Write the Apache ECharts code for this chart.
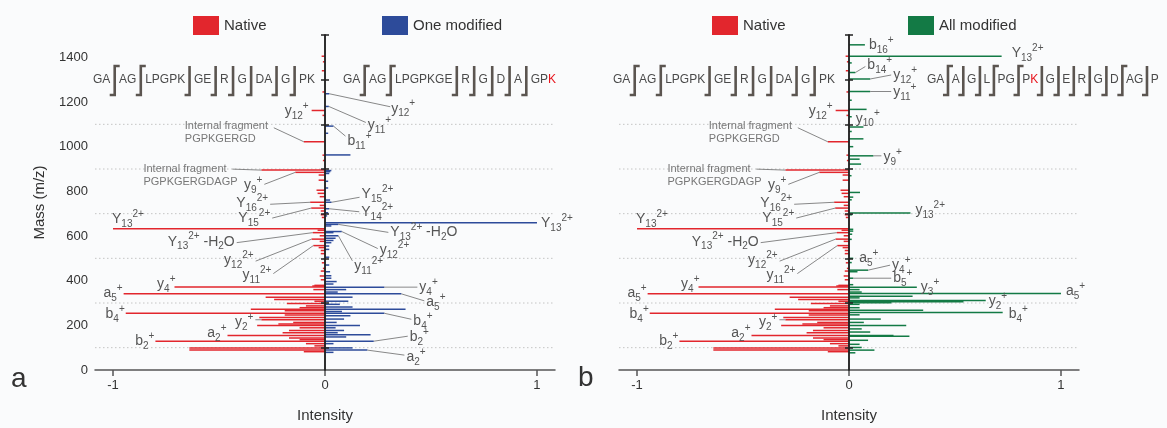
<!DOCTYPE html>
<html><head><meta charset="utf-8">
<script src="https://cdn.jsdelivr.net/npm/echarts@6/dist/echarts.min.js"></script>
<style>html,body{margin:0;padding:0;background:#fafbfc}#c{width:1167px;height:428px}</style>
</head><body><div id="c"></div>
<script>
// ---------------- DATA ----------------
const massTicks = [0, 200, 400, 600, 800, 1000, 1200, 1400];
const centerTicks = [100, 300, 500, 700, 900, 1100, 1300, 1500];
const gridMass = [100, 300, 500, 700, 900, 1100];
const intensityTicks = [-1, 0, 1];

// [mass (m/z), intensity]  (native drawn on the negative side)
const nativePeaks = [
  [1405,-0.016],[1380,-0.01],[1340,-0.015],[1245,-0.012],[1162,-0.063],[1140,-0.012],
  [1022,-0.10],[962,-0.012],[938,-0.01],[895,-0.30],[885,-0.14],[873,-0.03],[850,-0.03],
  [805,-0.04],[791,-0.035],[776,-0.025],[751,-0.07],[737,-0.025],[725,-0.065],[712,-0.02],
  [695,-0.02],[683,-0.015],[633,-1.0],[626,-0.035],[615,-0.058],[601,-0.025],[586,-0.063],
  [576,-0.025],[557,-0.055],[548,-0.03],[535,-0.02],[521,-0.02],[480,-0.015],[455,-0.01],
  [443,-0.02],[421,-0.025],[404,-0.02],[379,-0.05],[376,-0.06],[372,-0.71],[360,-0.055],
  [341,-0.95],[326,-0.28],[316,-0.24],[308,-0.05],[298,-0.18],[287,-0.09],[279,-0.12],
  [272,-0.35],[265,-0.19],[254,-0.94],[246,-0.19],[235,-0.31],[225,-0.30],[213,-0.15],
  [206,-0.22],[199,-0.32],[189,-0.12],[177,-0.17],[167,-0.20],[155,-0.46],[143,-0.17],
  [136,-0.12],[129,-0.80],[118,-0.09],[108,-0.05],[99,-0.64],[89,-0.64],[82,-0.10]
];
const oneModifiedPeaks = [
  [1237,0.02],[1180,0.018],[1092,0.04],[1060,0.015],[963,0.12],[893,0.03],[888,0.025],
  [880,0.02],[845,0.015],[815,0.015],[761,0.024],[751,0.031],[722,0.02],[704,0.015],
  [690,0.01],[659,1.0],[652,0.063],[645,0.03],[620,0.079],[615,0.04],[601,0.063],[590,0.05],
  [580,0.04],[570,0.03],[555,0.02],[540,0.02],[505,0.02],[470,0.02],[440,0.024],[422,0.03],
  [411,0.03],[396,0.055],[385,0.04],[371,0.28],[360,0.10],[349,0.06],[341,0.36],[326,0.13],
  [308,0.11],[294,0.07],[282,0.13],[272,0.38],[262,0.08],[254,0.28],[243,0.12],[228,0.09],
  [213,0.055],[199,0.165],[189,0.05],[177,0.09],[167,0.06],[158,0.215],[148,0.10],
  [129,0.23],[118,0.04],[99,0.13],[89,0.20],[79,0.04]
];
const allModifiedPeaks = [
  [1456,0.075],[1405,0.72],[1375,0.013],[1332,0.03],[1303,0.10],[1247,0.10],[1208,0.013],
  [1167,0.083],[1134,0.013],[1088,0.068],[1068,0.013],[1035,0.068],[1000,0.02],[959,0.115],
  [944,0.05],[922,0.057],[870,0.012],[795,0.052],[774,0.02],[762,0.013],[703,0.29],
  [695,0.015],[630,0.02],[622,0.02],[608,0.015],[585,0.013],[500,0.02],[481,0.013],
  [447,0.09],[440,0.04],[411,0.02],[382,0.02],[370,0.32],[360,0.05],[349,0.06],[342,1.0],
  [330,0.30],[323,0.05],[311,0.645],[306,0.54],[301,0.20],[294,0.05],[279,0.05],[268,0.35],
  [257,0.725],[247,0.05],[228,0.15],[213,0.07],[199,0.27],[184,0.06],[170,0.10],[155,0.21],
  [151,0.285],[133,0.09],[115,0.05],[101,0.06],[89,0.12],[77,0.03]
];

// ion labels: [text, mass, intensity of the labelled peak]
const nativeIons = [
  ['y_12^+',1162,-0.063],['Internal fragment\nPGPKGERGD',1022,-0.10],
  ['Internal fragment\nPGPKGERGDAGP',895,-0.30],['y_9^+',885,-0.14],['Y_16^2+',751,-0.07],
  ['Y_15^2+',725,-0.065],['Y_13^2+',633,-1.0],['Y_13^2+ -H_2O',615,-0.058],['y_12^2+',586,-0.063],
  ['y_11^2+',557,-0.055],['y_4^+',372,-0.71],['a_5^+',341,-0.95],['b_4^+',254,-0.94],
  ['y_2^+',225,-0.30],['a_2^+',155,-0.46],['b_2^+',129,-0.80]
];
const oneModifiedIons = [
  ['y_12^+',1237,0.02],['y_11^+',1180,0.018],['b_11^+',1092,0.04],['Y_15^2+',751,0.031],
  ['Y_14^2+',722,0.02],['Y_13^2+',659,1.0],['Y_13^2+ -H_2O',652,0.063],['y_12^2+',620,0.079],
  ['y_11^2+',601,0.063],['y_4^+',371,0.28],['a_5^+',341,0.36],['b_4^+',254,0.28],
  ['b_2^+',129,0.23],['a_2^+',89,0.20]
];
const allModifiedIons = [
  ['b_16^+',1456,0.075],['Y_13^2+',1405,0.72],['b_14^+',1332,0.03],['y_12^+',1303,0.10],
  ['y_11^+',1247,0.10],['y_10^+',1134,0.013],['y_9^+',959,0.115],['y_13^2+',703,0.29],
  ['a_5^+',500,0.02],['y_4^+',447,0.09],['b_5^+',411,0.02],['y_3^+',370,0.32],
  ['a_5^+',342,1.0],['y_2^+',311,0.645],['b_4^+',257,0.725]
];

// peptide sequences with fragmentation brackets (z: both sides, j: y-side only); * marks red residue
const seqNative = {segs:['GA','AG','LPGPK','GE','R','G','DA','G','PK'], br:['z','z','j','j','j','j','j','j']};
const seqOneMod = {segs:['GA','AG','LPGPKGE','R','G','D','A','GP*K'], br:['z','z','j','j','j','j','j']};
const seqAllMod = {segs:['GA','A','G','L','PG','P*K','G','E','R','G','D','AG','P'], br:['z','j','j','z','z','j','j','j','j','j','z','j']};

// ---------------- LAYOUT / STYLE ----------------
const FONT = '"Liberation Sans", Arial, Helvetica, sans-serif';
const RED = '#e2262d', BLUE = '#2d4b9a', GREEN = '#137a45';
const TXT = '#555';
// label placement (pixels relative to peak end): [textDx, textDy, leaderDx, leaderDy, align]
const nativeLayout = [
  [-3,1,null,null,'right'],[-119,-9.5,-30,-14,'left'],[-118,5.5,-29,-1,'left'],[-33,13,-31,12,'right'],
  [-42,1,-40,2,'right'],[-41,10,-39,10,'right'],[-1,-9,null,null,'left'],[-78,9,-76,10,'right'],
  [-58,21,-56,22,'right'],[-42,30,-40,28,'right'],[1,-3,null,null,'right'],[-1,-1,null,null,'right'],
  [-1,1,null,null,'right'],[-8,2,-6,0,'right'],[-1,-2,null,null,'right'],[-1,0,null,null,'right']
];
const oneModifiedLayout = [
  [62,15,61,13,'left'],[39,19,37,16,'left'],[14,15,12,10,'left'],[30,-8,28,-5,'left'],
  [32,3,30,3,'left'],[4,0,null,null,'left'],[52,8,50,8,'left'],[38,19,36,17,'left'],
  [16,30,14,25,'left'],[35,0,33,0,'left'],[25,8,23,7,'left'],[29,8,27,6,'left'],
  [36,-4,34,-5,'left'],[39,7,37,5,'left']
];
const allModifiedLayout = [
  [4,0,null,null,'left'],[10,-3,null,null,'left'],[12,-7,10,-6,'left'],[23,-4,21,-4,'left'],
  [23,1,21,0,'left'],[4,2,null,null,'left'],[10,1,8,0,'left'],[5,-3,null,null,'left'],
  [6,0,null,null,'left'],[24,-5,22,-5,'left'],[40,0,38,0,'left'],[4,0,null,null,'left'],
  [5,-2,null,null,'left'],[3,1,null,null,'left'],[6,2,null,null,'left']
];

const RICH = {
  b:{fontSize:14, fontFamily:FONT, color:TXT, lineHeight:20},
  sub:{fontSize:10, fontFamily:FONT, color:TXT, lineHeight:10, verticalAlign:'bottom'},
  sup:{fontSize:10, fontFamily:FONT, color:TXT, lineHeight:10, verticalAlign:'top'}
};
function richIon(s){
  let out='', last=0, mm; const re=/([_^])([0-9+]+)/g;
  while((mm=re.exec(s))){
    if(mm.index>last) out+='{b|'+s.slice(last,mm.index)+'}';
    out+='{'+(mm[1]==='_'?'sub':'sup')+'|'+mm[2]+'}';
    last=re.lastIndex;
  }
  if(last<s.length) out+='{b|'+s.slice(last)+'}';
  return out;
}

function peakSeries(name, peaks, color, xi, yi){
  return {
    name, type:'custom', xAxisIndex:xi, yAxisIndex:yi, z:3, silent:true,
    itemStyle:{color}, encode:{x:0,y:1},
    data: peaks.map(p=>[p[1],p[0]]),
    renderItem:(params, api)=>{
      const m=api.value(1), v=api.value(0);
      const a=api.coord([0,m]), b=api.coord([v,m]);
      return {type:'line', shape:{x1:a[0],y1:a[1],x2:b[0],y2:b[1]}, style:{stroke:color, lineWidth:1.5}};
    }
  };
}
function labelSeries(ions, layout, xi, yi){
  return {
    type:'custom', xAxisIndex:xi, yAxisIndex:yi, z:5, silent:true, encode:{x:0,y:1},
    data: ions.map(d=>[d[2],d[1]]),
    renderItem:(params, api)=>{
      const d=ions[params.dataIndex], L=layout[params.dataIndex];
      const p=api.coord([api.value(0),api.value(1)]);
      const ch=[];
      if(L[2]!==null){
        ch.push({type:'line', shape:{x1:p[0],y1:p[1],x2:p[0]+L[2],y2:p[1]+L[3]}, style:{stroke:'#6a6a6a', lineWidth:0.8}});
      }
      const internal=d[0].indexOf('Internal')===0;
      const st={x:p[0]+L[0], y:p[1]+L[1], align:L[4], textAlign:L[4], verticalAlign:'middle', textVerticalAlign:'middle'};
      if(internal){ st.text=d[0]; st.fontSize=11; st.fontFamily=FONT; st.fill='#777'; st.lineHeight=13; }
      else { st.text=richIon(d[0]); st.rich=RICH; st.fill=TXT; }
      ch.push({type:'text', style:st});
      return {type:'group', children:ch};
    }
  };
}
function gridLineSeries(xi, yi){
  return {
    type:'custom', xAxisIndex:xi, yAxisIndex:yi, z:1, silent:true,
    data: gridMass.map(m=>[0,m]), encode:{x:0,y:1},
    renderItem:(params, api)=>{
      const cs=params.coordSys; const y=api.coord([0,api.value(1)])[1];
      return {type:'line', shape:{x1:cs.x,y1:y,x2:cs.x+cs.width,y2:y}, style:{stroke:'#c4c4c4', lineWidth:1, lineDash:[1.5,2.5]}};
    }
  };
}

// sequence graphics
const measureCtx=document.createElement('canvas').getContext('2d');
function tw(t, size){ measureCtx.font=size+'px '+FONT; return measureCtx.measureText(t).width; }
function buildSeq(seq, x0, x1, gapFixed){
  const size=12, cy=79.5, yT=66, yB=95, arm=5;
  const widths=seq.segs.map(s=>tw(s.replace('*',''),size));
  const total=widths.reduce((a,b)=>a+b,0);
  const gap = gapFixed!=null ? gapFixed : (x1-x0-total)/seq.br.length;
  const els=[]; let x=x0;
  seq.segs.forEach((s,i)=>{
    const parts=s.split('*');
    let px=x;
    parts.forEach((part,k)=>{
      if(!part) return;
      els.push({type:'text', x:px, y:cy, silent:true, z:10, style:{text:part, fontSize:size, fontFamily:FONT, fill:k>0?'#e8141c':'#4a4a4a', textAlign:'left', textVerticalAlign:'middle', align:'left', verticalAlign:'middle'}});
      px+=tw(part,size);
    });
    x+=widths[i];
    if(i<seq.br.length){
      const cx=x+gap/2;
      const pts = seq.br[i]==='z' ? [[cx-arm,yB],[cx,yB],[cx,yT],[cx+arm,yT]] : [[cx-arm,yB],[cx,yB],[cx,yT]];
      els.push({type:'polyline', silent:true, z:10, shape:{points:pts}, style:{stroke:'#5b5550', lineWidth:2.6, fill:null}});
      x+=gap;
    }
  });
  return els;
}

const chart=echarts.init(document.getElementById('c'), null, {renderer:'canvas'});

function xAxisDef(gi){
  return {
    type:'value', gridIndex:gi, min:-1.085, max:1.085,
    axisLine:{onZero:false, lineStyle:{color:'#555', width:1.5}},
    axisTick:{customValues:intensityTicks, length:6, lineStyle:{color:'#555', width:1.5}},
    axisLabel:{customValues:intensityTicks, fontSize:13, color:'#333', margin:9, fontFamily:FONT},
    splitLine:{show:false},
    name:'Intensity', nameLocation:'middle', nameGap:38,
    nameTextStyle:{fontSize:15, color:'#333', fontFamily:FONT}
  };
}
function centerAxis(gi, inside){
  return {
    type:'value', gridIndex:gi, min:0, max:1500, z:6, position:'left',
    axisLine:{show:true, onZero:true, onZeroAxisIndex:gi, lineStyle:{color:'#222', width:1.5}},
    axisTick:{show:true, customValues:centerTicks, inside:inside, length:4, lineStyle:{color:'#222', width:1.5}},
    axisLabel:{show:false}, splitLine:{show:false}
  };
}
const legendBase={icon:'rect', itemWidth:26, itemHeight:19, padding:0, selectedMode:false,
  textStyle:{fontSize:15, color:'#333', fontFamily:FONT}};

const graphics=[]
  .concat(buildSeq(seqNative,93,315))
  .concat(buildSeq(seqOneMod,343,556))
  .concat(buildSeq(seqNative,613,835))
  .concat(buildSeq(seqAllMod,927,null,7.3));
graphics.push({type:'text', x:11, y:379, style:{text:'a', fontSize:28, fontFamily:FONT, fill:'#333', textVerticalAlign:'middle', verticalAlign:'middle'}});
graphics.push({type:'text', x:578, y:378, style:{text:'b', fontSize:28, fontFamily:FONT, fill:'#333', textVerticalAlign:'middle', verticalAlign:'middle'}});

chart.setOption({
  backgroundColor:'#fafbfc',
  animation:false,
  textStyle:{fontFamily:FONT},
  legend:[
    Object.assign({data:['Native'], left:193, top:16}, legendBase),
    Object.assign({data:['One modified'], left:382, top:16}, legendBase),
    Object.assign({data:['Native'], left:712, top:16}, legendBase),
    Object.assign({data:['All modified'], left:908, top:16}, legendBase)
  ],
  grid:[
    {left:95, top:35, width:460, height:342},
    {left:619, top:35, width:460, height:342}
  ],
  xAxis:[xAxisDef(0), xAxisDef(1)],
  yAxis:[
    {type:'value', gridIndex:0, min:0, max:1500, position:'left',
     axisLine:{show:false, onZero:false}, axisTick:{show:false},
     axisLabel:{customValues:massTicks, fontSize:13, color:'#333', margin:7, fontFamily:FONT, formatter:v=>String(v)},
     splitLine:{show:false},
     name:'Mass (m/z)', nameLocation:'middle', nameGap:48, nameRotate:90,
     nameTextStyle:{fontSize:15, color:'#333', fontFamily:FONT}},
    centerAxis(0,false), centerAxis(0,true),
    centerAxis(1,false), centerAxis(1,true)
  ],
  series:[
    gridLineSeries(0,1), gridLineSeries(1,3),
    peakSeries('Native', nativePeaks, RED, 0, 1),
    peakSeries('One modified', oneModifiedPeaks, BLUE, 0, 1),
    peakSeries('Native', nativePeaks, RED, 1, 3),
    peakSeries('All modified', allModifiedPeaks, GREEN, 1, 3),
    labelSeries(nativeIons, nativeLayout, 0, 1),
    labelSeries(oneModifiedIons, oneModifiedLayout, 0, 1),
    labelSeries(nativeIons, nativeLayout, 1, 3),
    labelSeries(allModifiedIons, allModifiedLayout, 1, 3)
  ],
  graphic:graphics
});
</script></body></html>
